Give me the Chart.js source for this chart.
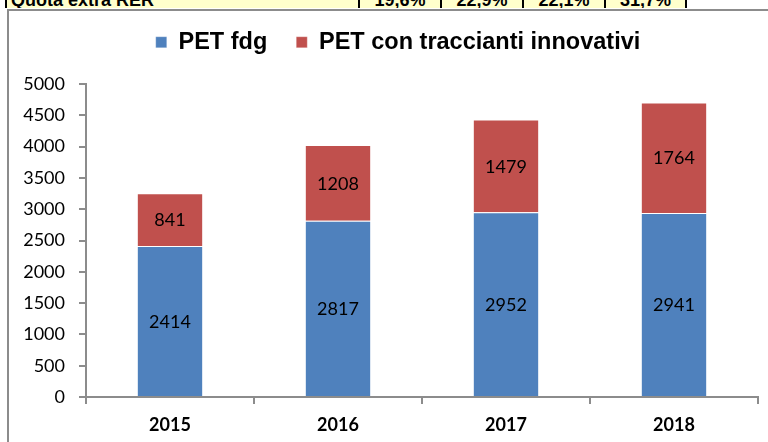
<!DOCTYPE html>
<html>
<head>
<meta charset="utf-8">
<script src="https://cdn.jsdelivr.net/npm/chart.js@4.4.1/dist/chart.umd.min.js"></script>
<style>
  html, body { margin: 0; padding: 0; background: #fff; }
  #page { position: relative; width: 768px; height: 442px; overflow: hidden; }
  #table { position: absolute; left: 0; top: 0; width: 768px; height: 8px; overflow: hidden; }
  .cell {
    position: absolute; top: 0; height: 8px; overflow: hidden;
    background: #ffffcc; border-left: 2px solid #000; box-sizing: border-box;
  }
  .cell span {
    position: absolute; top: -9px; left: 0; right: 0;
    font: bold 18px/18px "Liberation Sans", Arial, sans-serif; color: #000;
    text-align: center; white-space: nowrap;
  }
  .cell.first span { text-align: left; left: 4px; }
  #frame {
    position: absolute; left: 7px; top: 9px; width: 900px; height: 600px;
    border: 2px solid #8c8c8c; box-sizing: border-box;
  }
  #wrap { position: absolute; left: 0; top: 0; width: 768px; height: 442px; }
</style>
</head>
<body>
<div id="page">
  <div id="table"></div>
  <div id="frame"></div>
  <div id="wrap"><canvas id="chart"></canvas></div>
</div>
<script>
// Data
const categories = ['2015', '2016', '2017', '2018'];
const petFdg = [2414, 2817, 2952, 2941];
const petTraccianti = [841, 1208, 1479, 1764];
const seriesNames = ['PET fdg', 'PET con traccianti innovativi'];
const yMax = 5000;
const yStep = 500;

// table row cut off at the top of the picture
const tableLabel = 'Quota extra RER';
const quotaExtraRer = ['19,6%', '22,9%', '22,1%', '31,7%'];
const colEdges = [5, 358, 440, 522, 604, 685];

const table = document.getElementById('table');
[tableLabel].concat(quotaExtraRer).forEach((txt, i) => {
    const c = document.createElement('div');
    c.className = 'cell' + (i === 0 ? ' first' : '');
    c.style.left = colEdges[i] + 'px';
    c.style.width = (colEdges[i + 1] - colEdges[i]) + 'px';
    const s = document.createElement('span');
    s.textContent = txt;
    c.appendChild(s);
    table.appendChild(c);
});
const endLine = document.createElement('div');
endLine.style.cssText = 'position:absolute;top:0;height:8px;width:2px;background:#000;left:' + colEdges[5] + 'px';
table.appendChild(endLine);

// numbers in the middle of every segment
const valueLabels = {
    id: 'valueLabels',
    afterDatasetsDraw(chart) {
        const ctx = chart.ctx;
        ctx.save();
        ctx.font = '18px Lato';
        ctx.fillStyle = '#000';
        ctx.textAlign = 'center';
        ctx.textBaseline = 'middle';
        chart.data.datasets.forEach((ds, i) => {
            chart.getDatasetMeta(i).data.forEach((bar, j) => {
                ctx.fillText(String(ds.data[j]), bar.x, (bar.y + bar.base) / 2 + 1);
            });
        });
        ctx.restore();
    }
};

// more room under the legend, and centre it over the frame instead of the canvas
const legendGap = 20;
const legendShift = 19;
const legendPlacement = {
    id: 'legendPlacement',
    beforeLayout(chart) {
        const lg = chart.legend;
        if (lg && !lg.patched) {
            const fit = lg.fit;
            lg.fit = function () { fit.call(this); this.height += legendGap; };
            lg.patched = true;
        }
    },
    afterLayout(chart) {
        chart.legend.left += legendShift;
        chart.legend.right += legendShift;
    }
};

const axisGrey = '#8c8c8c';

new Chart(document.getElementById('chart'), {
    type: 'bar',
    data: {
        labels: categories,
        datasets: [{
            label: seriesNames[0],
            data: petFdg,
            backgroundColor: '#4f81bd',
            borderColor: 'rgba(255,255,255,0.25)',
            borderWidth: 1,
            categoryPercentage: 1,
            barPercentage: 0.395
        }, {
            label: seriesNames[1],
            data: petTraccianti,
            backgroundColor: '#c0504d',
            borderColor: 'rgba(255,255,255,0.25)',
            borderWidth: 1,
            categoryPercentage: 1,
            barPercentage: 0.395
        }]
    },
    options: {
        responsive: true,
        maintainAspectRatio: false,
        animation: false,
        layout: { padding: { top: 1.5, left: 0, right: 10, bottom: 5 } },
        scales: {
            x: {
                stacked: true,
                grid: {
                    offset: true,
                    drawOnChartArea: false,
                    drawTicks: true,
                    tickLength: 7,
                    color: axisGrey,
                    lineWidth: 2
                },
                border: { color: axisGrey, width: 2 },
                ticks: {
                    color: '#000',
                    padding: 10,
                    font: { family: 'Lato', size: 18, weight: 'bold' }
                },
                afterFit(scale) { scale.height = 40; }
            },
            y: {
                stacked: true,
                min: 0,
                max: yMax,
                grid: {
                    drawOnChartArea: false,
                    drawTicks: true,
                    tickLength: 7,
                    color: axisGrey,
                    lineWidth: 2
                },
                border: { color: axisGrey, width: 2 },
                ticks: {
                    stepSize: yStep,
                    color: '#000',
                    padding: 14,
                    font: { family: 'Lato', size: 18 },
                    callback: v => String(v)
                },
                afterFit(scale) { scale.width = 86; }
            }
        },
        plugins: {
            legend: {
                position: 'top',
                labels: {
                    color: '#000',
                    boxWidth: 11,
                    boxHeight: 11,
                    padding: 29,
                    font: { family: 'Liberation Sans', size: 23.5, weight: 'bold' }
                }
            },
            tooltip: { enabled: false }
        }
    },
    plugins: [valueLabels, legendPlacement]
});
</script>
</body>
</html>
